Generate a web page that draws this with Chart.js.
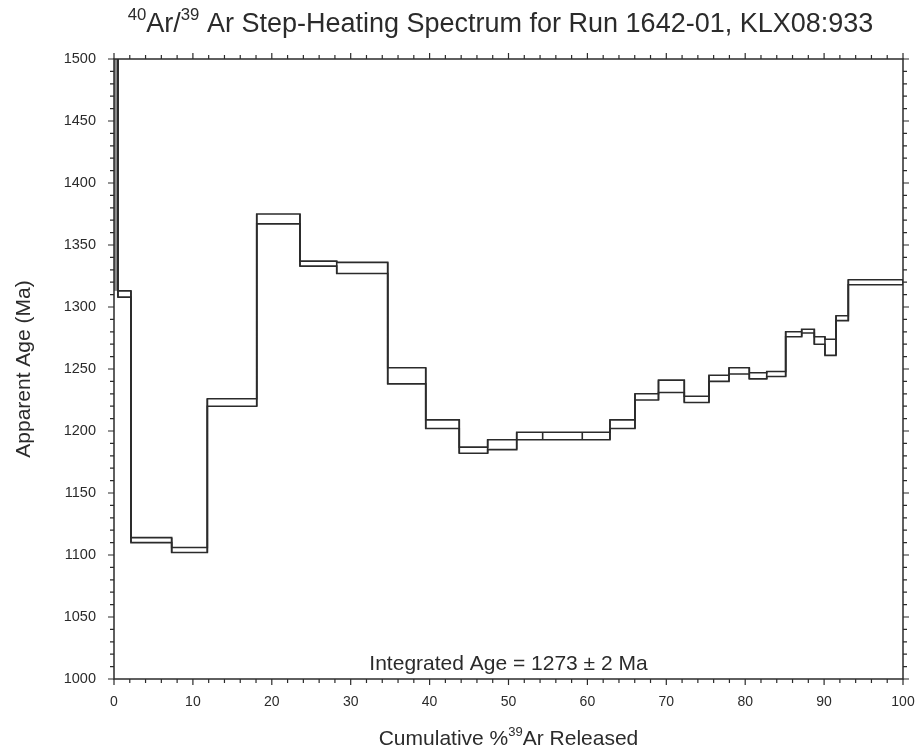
<!DOCTYPE html>
<html>
<head>
<meta charset="utf-8">
<script src="https://cdn.jsdelivr.net/npm/chart.js@4.4.1/dist/chart.umd.min.js"></script>
<style>
  html,body{margin:0;padding:0;background:#fff;}
</style>
</head>
<body>
<canvas id="spectrum" width="919" height="753"></canvas>
<script>
/* ========= DATA ========= */
// step boundaries, cumulative % 39Ar released
const stepEdges = [0, 0.5, 2.15, 7.31, 11.83, 18.09, 23.57, 28.23, 34.69, 39.51, 43.76,
  47.36, 51.04, 54.33, 59.35, 62.86, 66.03, 69.01, 72.28, 75.41, 77.95, 80.52, 82.73,
  85.13, 87.16, 88.76, 90.11, 91.51, 93.07, 100];
// apparent age (Ma), top and bottom of each step box (first step is off scale)
const ageHigh = [1720, 1313, 1114, 1106, 1226, 1375, 1337, 1336, 1251, 1209, 1187, 1193,
  1199, 1199, 1199, 1209, 1230, 1241, 1228, 1245, 1251, 1247, 1248, 1280, 1282, 1276, 1274, 1293, 1322];
const ageLow  = [1680, 1308, 1110, 1102, 1220, 1367, 1333, 1327, 1238, 1202, 1182, 1185,
  1193, 1193, 1193, 1202, 1225, 1231, 1223, 1240, 1246, 1242, 1244, 1276, 1279, 1270, 1261, 1289, 1318];
const xTicks = [0, 10, 20, 30, 40, 50, 60, 70, 80, 90, 100];
const yTicks = [1000, 1050, 1100, 1150, 1200, 1250, 1300, 1350, 1400, 1450, 1500];
const integratedAge = 1273;
const integratedErr = 2;

/* ========= CONFIG ========= */
const FONT = "'Liberation Sans', Helvetica, Arial, sans-serif";
const INK = "#2b2b2b";
const LINE_W = 1.6;

// horizontal at each step value, verticals between steps
function stepLine(vals){
  const pts = [];
  vals.forEach((v,i)=>{
    pts.push({x:stepEdges[i], y:v}, {x:stepEdges[i+1], y:v});
  });
  return pts;
}

// vertical box edges at every boundary
function edgeLines(){
  const pts = [];
  stepEdges.forEach((x,j)=>{
    const ys = [];
    if(j>0) ys.push(ageHigh[j-1], ageLow[j-1]);
    if(j<ageHigh.length) ys.push(ageHigh[j], ageLow[j]);
    pts.push({x, y:Math.min(...ys)}, {x, y:Math.max(...ys)}, {x, y:null});
  });
  return pts;
}

/* ========= TEXT + FRAME ========= */
function drawRich(ctx, parts, cx, base, size){
  const sub = size*0.62;
  let w = 0;
  parts.forEach(p=>{
    ctx.font = (p.sup ? sub : size) + "px " + FONT;
    p.w = ctx.measureText(p.t).width;
    w += p.w;
  });
  let x = cx - w/2;
  ctx.textAlign = "left";
  ctx.textBaseline = "alphabetic";
  parts.forEach(p=>{
    ctx.font = (p.sup ? sub : size) + "px " + FONT;
    ctx.fillText(p.t, x, p.sup ? base - size*0.45 : base);
    x += p.w;
  });
}

const framePlugin = {
  id:"frame",
  afterDraw(chart){
    const {ctx, chartArea:a, scales:{x, y}} = chart;
    ctx.save();
    ctx.strokeStyle = INK;
    ctx.lineWidth = 1.5;
    ctx.strokeRect(a.left, a.top, a.right-a.left, a.bottom-a.top);

    ctx.lineWidth = 1.2;
    ctx.beginPath();
    for(let v=0; v<=100; v+=2){
      const px = x.getPixelForValue(v);
      const len = v%10===0 ? 6 : 4;
      ctx.moveTo(px, a.bottom); ctx.lineTo(px, a.bottom+len);
      ctx.moveTo(px, a.top);    ctx.lineTo(px, a.top-len);
    }
    for(let v=1000; v<=1500; v+=10){
      const py = y.getPixelForValue(v);
      const len = v%50===0 ? 6 : 4;
      ctx.moveTo(a.left, py);  ctx.lineTo(a.left-len, py);
      ctx.moveTo(a.right, py); ctx.lineTo(a.right+len, py);
    }
    ctx.stroke();

    ctx.fillStyle = INK;
    const cx = (a.left+a.right)/2;
    drawRich(ctx, [{t:"40",sup:1},{t:"Ar/"},{t:"39",sup:1},{t:" Ar Step-Heating Spectrum for Run 1642-01, KLX08:933"}], cx - 8, 32, 27);
    drawRich(ctx, [{t:"Cumulative %"},{t:"39",sup:1},{t:"Ar Released"}], cx, 745, 21);
    drawRich(ctx, [{t:"Integrated Age = " + integratedAge + " \u00b1 " + integratedErr + " Ma"}], cx, 670, 21);

    ctx.translate(30, (a.top+a.bottom)/2);
    ctx.rotate(-Math.PI/2);
    drawRich(ctx, [{t:"Apparent Age (Ma)"}], 0, 0, 21);
    ctx.restore();
  }
};

/* ========= CHART ========= */
const lineStyle = {
  borderColor:INK, borderWidth:LINE_W, pointRadius:0, fill:false,
  tension:0, spanGaps:false
};

new Chart(document.getElementById("spectrum"),{
  type:"line",
  data:{
    datasets:[
      {...lineStyle, label:"upper", data:stepLine(ageHigh)},
      {...lineStyle, label:"lower", data:stepLine(ageLow)},
      {...lineStyle, label:"edges", data:edgeLines()},
      // off-scale first step shown as a grey band above the second step
      {label:"first step", data:[{x:stepEdges[0], y:ageHigh[1]}, {x:stepEdges[1], y:ageHigh[1]}],
       borderWidth:0, pointRadius:0, fill:"end", backgroundColor:"rgba(100,100,100,0.75)"}
    ]
  },
  options:{
    responsive:false,
    animation:false,
    layout:{padding:{top:59, right:16, left:0, bottom:0}},
    plugins:{legend:{display:false}, tooltip:{enabled:false}, title:{display:false}},
    scales:{
      x:{
        type:"linear", min:0, max:100,
        grid:{display:false, drawTicks:false}, border:{display:false},
        afterBuildTicks:s=>{ s.ticks = xTicks.map(v=>({value:v})); },
        afterFit:s=>{ s.height = 74; s.paddingLeft = 0; s.paddingRight = 0; },
        ticks:{padding:15, color:INK, font:{family:FONT, size:14}, maxRotation:0, autoSkip:false,
               callback:v=>String(v)}
      },
      y:{
        type:"linear", min:1000, max:1500,
        grid:{display:false, drawTicks:false}, border:{display:false},
        afterBuildTicks:s=>{ s.ticks = yTicks.map(v=>({value:v})); },
        afterFit:s=>{ s.width = 114; s.paddingTop = 0; s.paddingBottom = 0; },
        ticks:{padding:18, color:INK, font:{family:FONT, size:14.5}, autoSkip:false,
               callback:v=>String(v)}
      }
    }
  },
  plugins:[framePlugin]
});
</script>
</body>
</html>
